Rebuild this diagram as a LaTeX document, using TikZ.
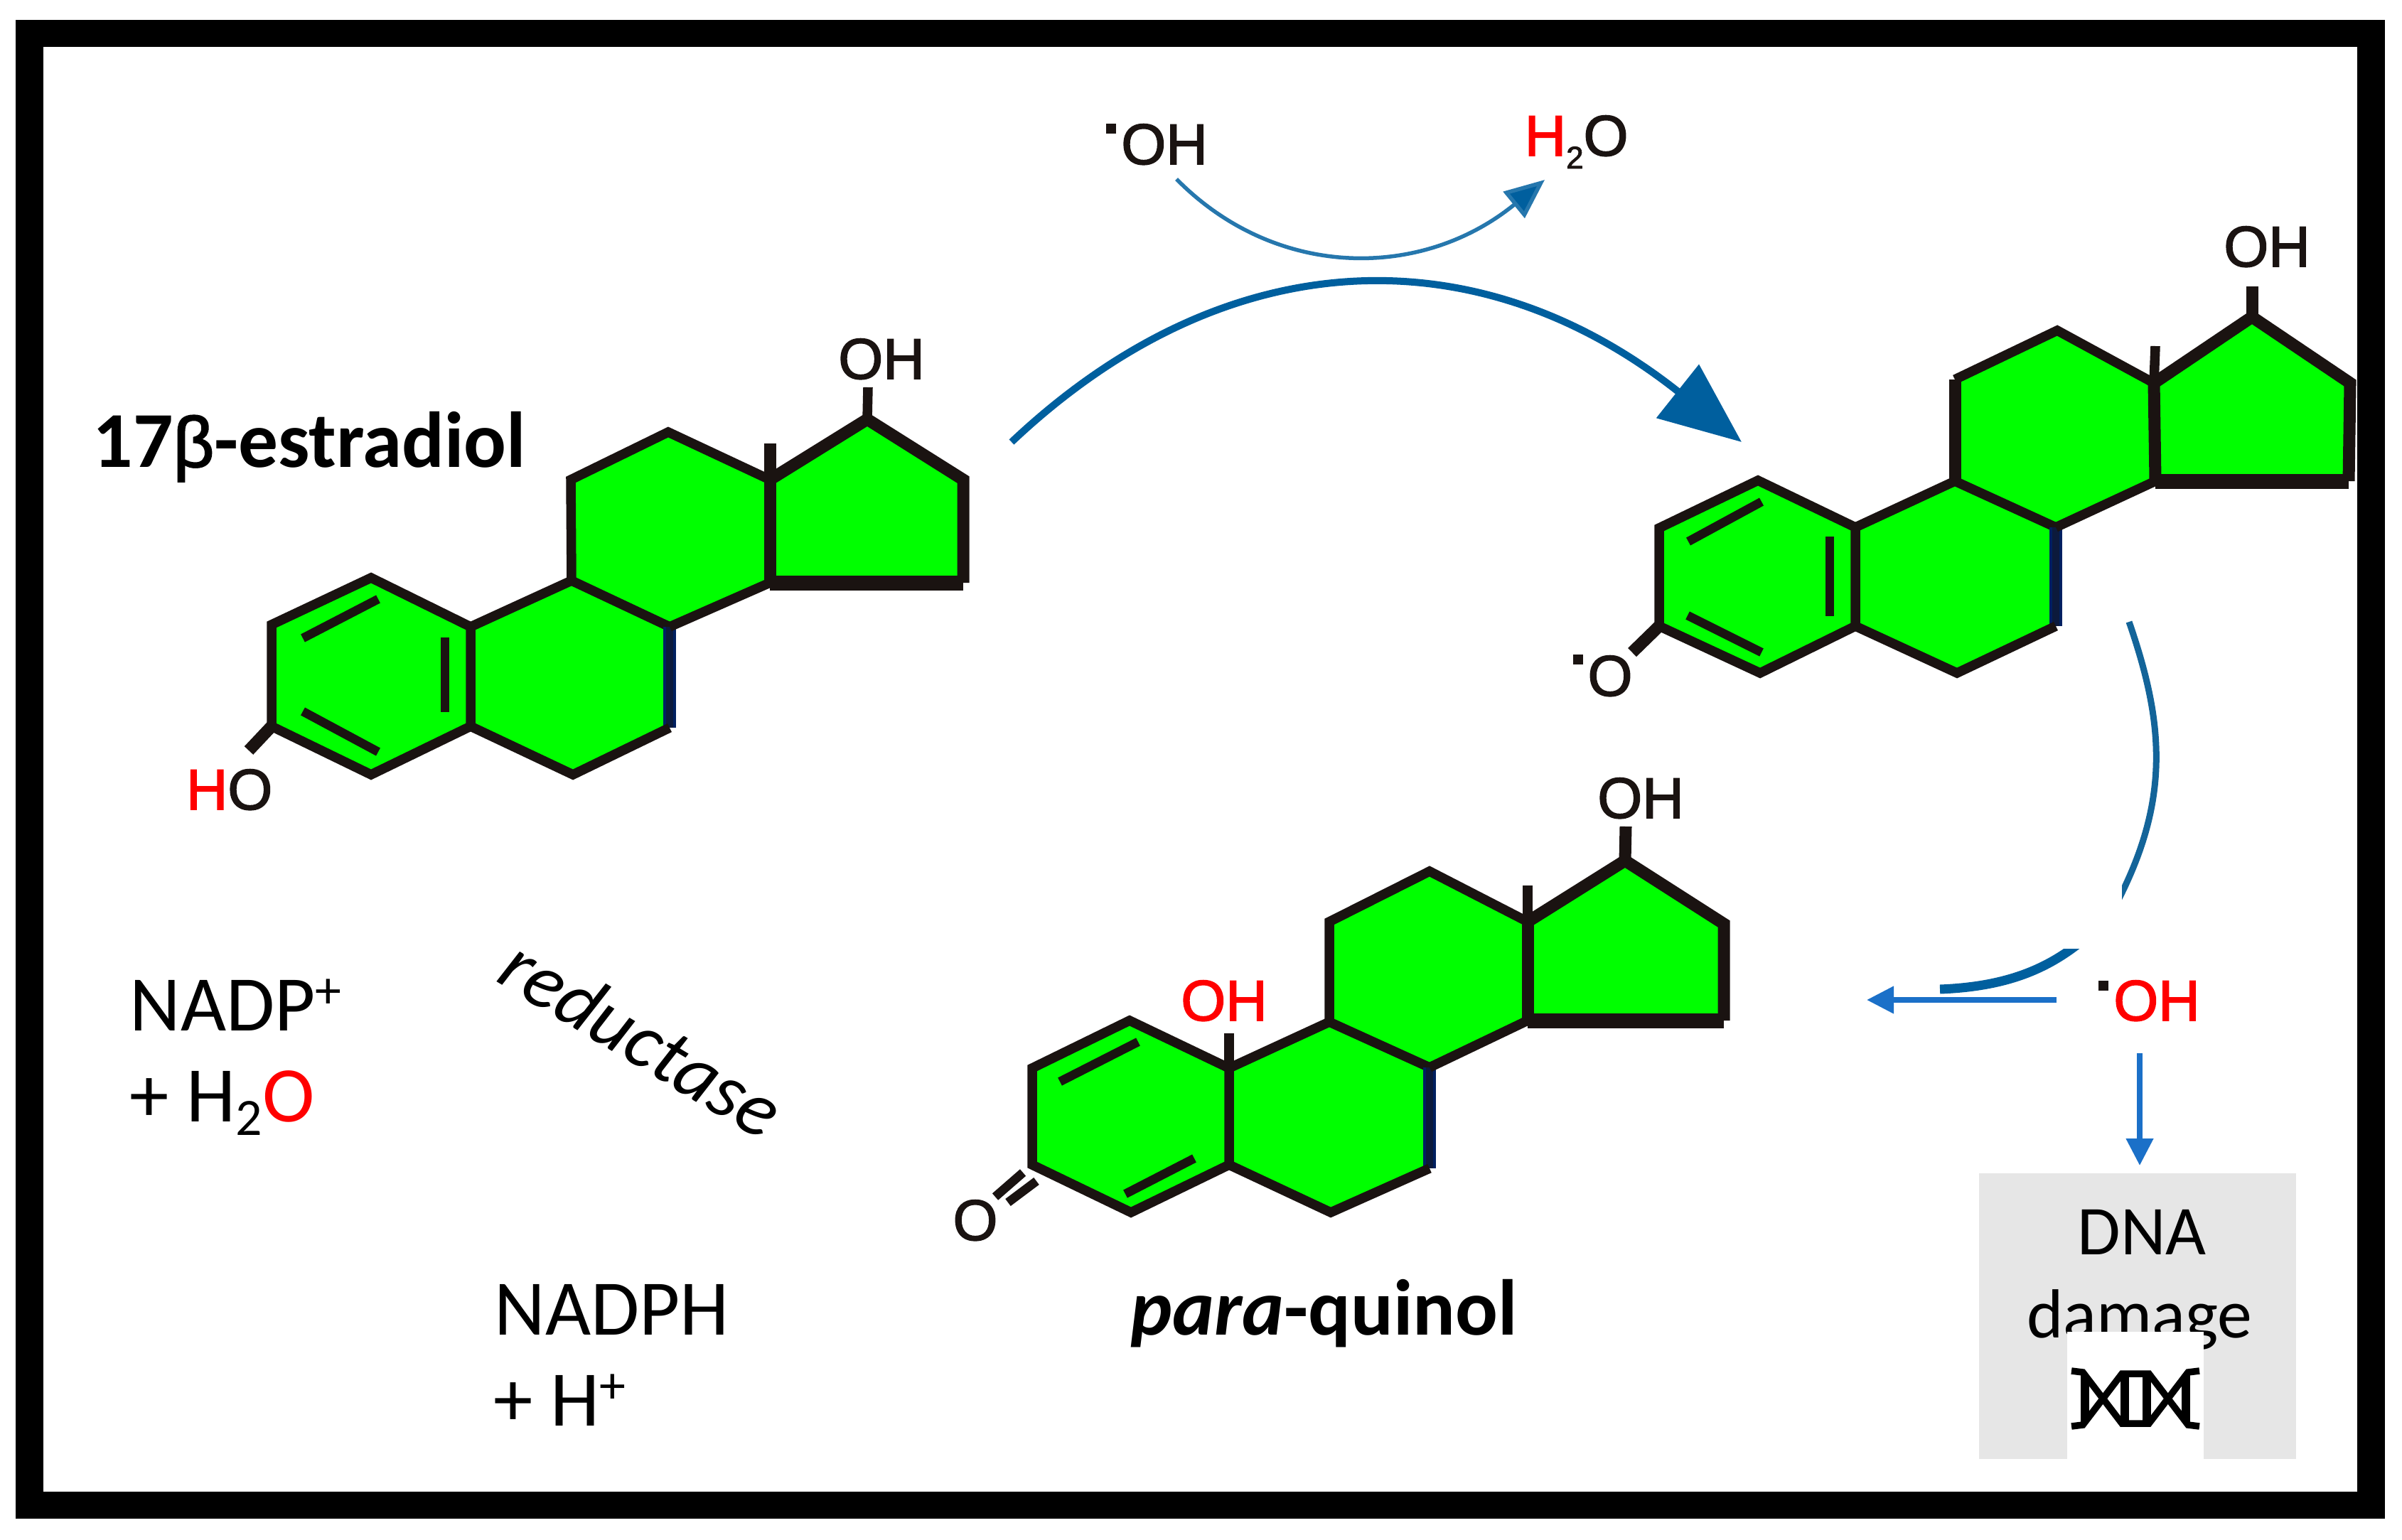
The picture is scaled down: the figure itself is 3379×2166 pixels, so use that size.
\documentclass[tikz,border=0pt]{standalone}
\usepackage{fontspec}
\usetikzlibrary{arrows.meta}
\setmainfont{Carlito}
\newfontfamily\chemfont[FakeBold=2]{Liberation Sans}
\definecolor{bondcol}{HTML}{1A1311}
\definecolor{ringcol}{HTML}{00FF00}
\definecolor{navycol}{HTML}{002060}
\definecolor{arcblue}{HTML}{005F9E}
\definecolor{thinblue}{HTML}{1B70C8}
\definecolor{boxgrey}{HTML}{E6E6E6}
\newcommand{\chemsize}{\fontsize{23}{26}\selectfont\chemfont}
\newcommand{\bodysize}{\fontsize{31.5}{36}\selectfont}
\newcommand{\titlesize}{\fontsize{31.7}{36}\selectfont\bfseries}
\tikzset{
  ringfill/.style={fill=ringcol},
  bond/.style={draw=bondcol,line width=0.135cm,line cap=butt,line join=miter},
  thickbond/.style={draw=bondcol,line width=0.17cm,line cap=butt,line join=miter},
  heavybond/.style={draw=bondcol,line width=0.21cm,line cap=square},
  innerbond/.style={draw=bondcol,line width=0.125cm},
  navybond/.style={draw=navycol,line width=0.18cm},
  navycore/.style={draw=bondcol!45!navycol,line width=0.1cm},
  chemlabel/.style={inner sep=0pt,text=bondcol,font=\chemsize},
  bodylabel/.style={inner sep=0pt,text=black,font=\bodysize},
  titlelabel/.style={inner sep=0pt,text=black,font=\titlesize},
  dot/.style={fill=bondcol},
  arcbig/.style={draw=arcblue,line width=0.1cm,-{Triangle[length=1.15cm,width=0.94cm,fill=arcblue]}},
  arcsmall/.style={draw=arcblue!85!white,line width=0.055cm,-{Triangle[length=0.56cm,width=0.47cm,fill=arcblue]}},
  arcrest/.style={draw=arcblue!85!gray,line width=0.09cm},
  arcresttail/.style={draw=arcblue,line width=0.13cm},
  thinarrow/.style={draw=thinblue,line width=0.075cm,-{Triangle[length=0.38cm,width=0.37cm,fill=thinblue]}},
  helix/.style={draw=black,line width=0.095cm},
  helixrung/.style={draw=black,line width=0.12cm}
}
\begin{document}
\begin{tikzpicture}[x=0.01cm,y=-0.01cm]
\useasboundingbox (0,0) rectangle (3379,2166);
\fill[white] (0,0) rectangle (3379,2166);
\fill[black] (22,28) rectangle (3355,2137);
\fill[white] (61,66) rectangle (3316,2099);

% ---------- 17beta-estradiol
\coordinate (ea1) at (522,813); \coordinate (ea2) at (382,879); \coordinate (ea3) at (382,1022);
\coordinate (ea4) at (522,1090); \coordinate (ea5) at (662,1022); \coordinate (ea6) at (662,882);
\coordinate (eb1) at (804,817); \coordinate (eb2) at (942,882); \coordinate (eb3) at (942,1024);
\coordinate (eb4) at (806,1090); \coordinate (ec1) at (803,675); \coordinate (ec2) at (940,608);
\coordinate (ec3) at (1083,675); \coordinate (ec4) at (1083,820); \coordinate (ed1) at (1220,590);
\coordinate (ed2) at (1355,675); \coordinate (ed3) at (1355,820);
\coordinate (em) at (1083,624); \coordinate (eoh) at (1221,545); \coordinate (eho) at (350,1056);
\coordinate (ei1) at (532,843); \coordinate (ei2) at (426,898); \coordinate (ei3) at (626,897);
\coordinate (ei4) at (626,1002); \coordinate (ei5) at (426,1001); \coordinate (ei6) at (532,1058);
\fill[ringfill] (ea1)--(ea2)--(ea3)--(ea4)--(ea5)--(ea6)--cycle;
\fill[ringfill] (ea6)--(eb1)--(eb2)--(eb3)--(eb4)--(ea5)--cycle;
\fill[ringfill] (ec1)--(ec2)--(ec3)--(ec4)--(eb2)--(eb1)--cycle;
\fill[ringfill] (ec3)--(ed1)--(ed2)--(ed3)--(ec4)--cycle;
\draw[bond] (ea1)--(ea2)--(ea3)--(ea4)--(ea5)--(ea6)--cycle;
\draw[bond] (ea6)--(eb1)--(eb2); \draw[navybond] (eb2)--(eb3); \draw[navycore] (eb2)--(eb3);
\draw[bond] (eb3)--(eb4)--(ea5);
\draw[bond] (eb1)--(ec1)--(ec2)--(ec3);
\draw[bond] (eb2)--(ec4);
\draw[thickbond] (ec3)--(ec4);
\draw[thickbond] (ec3)--(ed1)--(ed2)--(ed3);
\draw[heavybond] (ec4)--(ed3);
\draw[thickbond] (ec3)--(em);
\draw[bond] (ed1)--(eoh);
\draw[thickbond] (ea3)--(eho);
\draw[innerbond] (ei1)--(ei2);\draw[innerbond] (ei3)--(ei4);\draw[innerbond] (ei5)--(ei6);
\node[chemlabel,anchor=base] (eohl) at (1240,533) {OH};
\node[chemlabel,anchor=base east] (ehol) at (384,1139) {\textcolor{red}{H}O};
\node[titlelabel,anchor=base west] (etitle) at (130,657) {17{\fontsize{28.5}{30}\selectfont\mdseries\chemfont β}-estradiol};

% ---------- radical
\coordinate (ra1) at (2473,676); \coordinate (ra2) at (2334,743); \coordinate (ra3) at (2334,881);
\coordinate (ra4) at (2476,947); \coordinate (ra5) at (2610,881); \coordinate (ra6) at (2610,742);
\coordinate (rb1) at (2750,677); \coordinate (rb2) at (2892,742); \coordinate (rb3) at (2892,881);
\coordinate (rb4) at (2753,947); \coordinate (rc1) at (2750,534); \coordinate (rc2) at (2894,465);
\coordinate (rc3) at (3030,539); \coordinate (rc4) at (3032,677); \coordinate (rd1) at (3168,446);
\coordinate (rd2) at (3306,539); \coordinate (rd3) at (3304,677);
\coordinate (rm) at (3032,487); \coordinate (roh) at (3168,403); \coordinate (rho) at (2296,918);
\coordinate (ri1) at (2478,706); \coordinate (ri2) at (2375,762); \coordinate (ri3) at (2574,755);
\coordinate (ri4) at (2574,867); \coordinate (ri5) at (2374,866); \coordinate (ri6) at (2478,918);
\fill[ringfill] (ra1)--(ra2)--(ra3)--(ra4)--(ra5)--(ra6)--cycle;
\fill[ringfill] (ra6)--(rb1)--(rb2)--(rb3)--(rb4)--(ra5)--cycle;
\fill[ringfill] (rc1)--(rc2)--(rc3)--(rc4)--(rb2)--(rb1)--cycle;
\fill[ringfill] (rc3)--(rd1)--(rd2)--(rd3)--(rc4)--cycle;
\draw[bond] (ra1)--(ra2)--(ra3)--(ra4)--(ra5)--(ra6)--cycle;
\draw[bond] (ra6)--(rb1)--(rb2); \draw[navybond] (rb2)--(rb3); \draw[navycore] (rb2)--(rb3);
\draw[bond] (rb3)--(rb4)--(ra5);
\draw[thickbond] (rb1)--(rc1); \draw[bond] (rc1)--(rc2)--(rc3);
\draw[bond] (rb2)--(rc4);
\draw[thickbond] (rc3)--(rc4);
\draw[thickbond] (rc3)--(rd1)--(rd2)--(rd3);
\draw[heavybond] (rc4)--(rd3);
\draw[bond] (rc3)--(rm);
\draw[thickbond] (rd1)--(roh);
\draw[thickbond] (ra3)--(rho);
\draw[innerbond] (ri1)--(ri2);\draw[innerbond] (ri3)--(ri4);\draw[innerbond] (ri5)--(ri6);
\node[chemlabel,anchor=base] (rohl) at (3189,375) {OH};
\node[chemlabel,anchor=base] (rol) at (2265,979) {O};
\fill[dot] (2213,921) rectangle (2227,935);

% ---------- para-quinol
\coordinate (qa1) at (1589,1436); \coordinate (qa2) at (1452,1503); \coordinate (qa3) at (1452,1639);
\coordinate (qa4) at (1591,1706); \coordinate (qa5) at (1729,1639); \coordinate (qa6) at (1729,1503);
\coordinate (qb1) at (1870,1438); \coordinate (qb2) at (2011,1502); \coordinate (qb3) at (2011,1644);
\coordinate (qb4) at (1872,1706); \coordinate (qc1) at (1870,1297); \coordinate (qc2) at (2011,1226);
\coordinate (qc3) at (2149,1297); \coordinate (qc4) at (2149,1436); \coordinate (qd1) at (2286,1211);
\coordinate (qd2) at (2425,1300); \coordinate (qd3) at (2425,1436);
\coordinate (qm) at (2149,1246); \coordinate (qoh) at (2287,1163); \coordinate (qoh2) at (1729,1454);
\coordinate (qi1) at (1601,1466); \coordinate (qi2) at (1491,1522); \coordinate (qi3) at (1680,1630);
\coordinate (qi4) at (1583,1680);
\coordinate (qo1) at (1439,1650); \coordinate (qo2) at (1400,1684);
\coordinate (qo3) at (1458,1662); \coordinate (qo4) at (1418,1692);
\fill[ringfill] (qa1)--(qa2)--(qa3)--(qa4)--(qa5)--(qa6)--cycle;
\fill[ringfill] (qa6)--(qb1)--(qb2)--(qb3)--(qb4)--(qa5)--cycle;
\fill[ringfill] (qc1)--(qc2)--(qc3)--(qc4)--(qb2)--(qb1)--cycle;
\fill[ringfill] (qc3)--(qd1)--(qd2)--(qd3)--(qc4)--cycle;
\draw[bond] (qa1)--(qa2)--(qa3)--(qa4)--(qa5)--(qa6)--cycle;
\draw[bond] (qa6)--(qb1)--(qb2); \draw[navybond] (qb2)--(qb3); \draw[navycore] (qb2)--(qb3);
\draw[bond] (qb3)--(qb4)--(qa5);
\draw[bond] (qb1)--(qc1)--(qc2)--(qc3);
\draw[bond] (qb2)--(qc4);
\draw[thickbond] (qc3)--(qc4);
\draw[thickbond] (qc3)--(qd1)--(qd2)--(qd3);
\draw[heavybond] (qc4)--(qd3);
\draw[bond] (qc3)--(qm);
\draw[thickbond] (qd1)--(qoh);
\draw[bond] (qa6)--(qoh2);
\draw[innerbond] (qi1)--(qi2);\draw[innerbond] (qi3)--(qi4);
\draw[innerbond] (qo1)--(qo2);\draw[innerbond] (qo3)--(qo4);
\node[chemlabel,anchor=base] (qohl) at (2308,1151) {OH};
\node[chemlabel,anchor=base,text=red] (qoh2l) at (1722,1436) {OH};
\node[chemlabel,anchor=base] (qol) at (1372,1745) {O};
\node[titlelabel,anchor=base west] (qtitle) at (1590,1878) {\textit{para}-quinol};

% ---------- top reaction
\coordinate (bigstart) at (1423,622); \coordinate (bigend) at (2450,622);
\draw[arcbig] (bigstart) .. controls (1730,332) and (2085,332) .. (bigend);
\coordinate (smallstart) at (1655,252); \coordinate (smallend) at (2173,253);
\draw[arcsmall] (smallstart) .. controls (1795,394) and (2000,394) .. (smallend);
\node[chemlabel,anchor=base] (toh) at (1638,231) {OH};
\fill[dot] (1556,174) rectangle (1570,188);
\node[chemlabel,anchor=base west] (th2o) at (2144,219) {\textcolor{red}{H}\raisebox{-0.18cm}{\fontsize{12.5}{13}\selectfont 2}O};

% ---------- right-hand arc
\coordinate (arcA) at (2995,875); \coordinate (arcB) at (2970,1285);
\coordinate (arcC) at (2945,1310); \coordinate (arcD) at (2729,1392);
\draw[arcrest] (arcA) .. controls (3045,1020) and (3055,1130) .. (arcB);
\draw[arcresttail] (arcC) .. controls (2890,1360) and (2830,1388) .. (arcD);
\fill[white] (2880,1230) rectangle (2985,1335);

% ---------- OH radical and its arrows
\node[chemlabel,anchor=base,text=red] (ohr) at (3034,1436) {OH};
\fill[dot] (2952,1380) rectangle (2966,1394);
\coordinate (hstart) at (2893,1407); \coordinate (hend) at (2626,1407);
\draw[thinarrow] (hstart) -- (hend);
\coordinate (vstart) at (3010,1482); \coordinate (vend) at (3010,1640);
\draw[thinarrow] (vstart) -- (vend);

% ---------- DNA damage box
\fill[boxgrey] (2784,1651) rectangle (3230,2053);
\node[bodylabel,anchor=base] (dnal) at (3013,1765) {\fontsize{28}{30}\selectfont DNA};
\node[bodylabel,anchor=base] (damagel) at (3010,1882) {\fontsize{27.8}{30}\selectfont damage};
\fill[white] (2908,1874) rectangle (3100,2053);
\draw[helix] (2914,1929) -- (2930,1931) -- (2985,2003) -- (3023,2003) -- (3078,1931) -- (3094,1929);
\draw[helix] (2914,2007) -- (2930,2005) -- (2985,1933) -- (3023,1933) -- (3078,2005) -- (3094,2007);
\foreach \hx in {2933,2989,3020,3075} \draw[helixrung] (\hx,1935) -- (\hx,2001);

% ---------- cofactors
\node[bodylabel,anchor=base west] (nadp) at (182,1450) {NADP\raisebox{0.32cm}{\fontsize{21}{23}\selectfont +}};
\node[bodylabel,anchor=base west] (hto) at (182,1578) {+ H\raisebox{-0.19cm}{\fontsize{21}{23}\selectfont 2}\textcolor{red}{O}};
\node[bodylabel,anchor=base west] (nadph) at (695,1878) {NADPH};
\node[bodylabel,anchor=base west] (hplus) at (694,2006) {+ H\raisebox{0.32cm}{\fontsize{21}{23}\selectfont +}};
\node[bodylabel,rotate=-31] (redu) at (903,1460) {\textit{reductase}};
\end{tikzpicture}
\end{document}
